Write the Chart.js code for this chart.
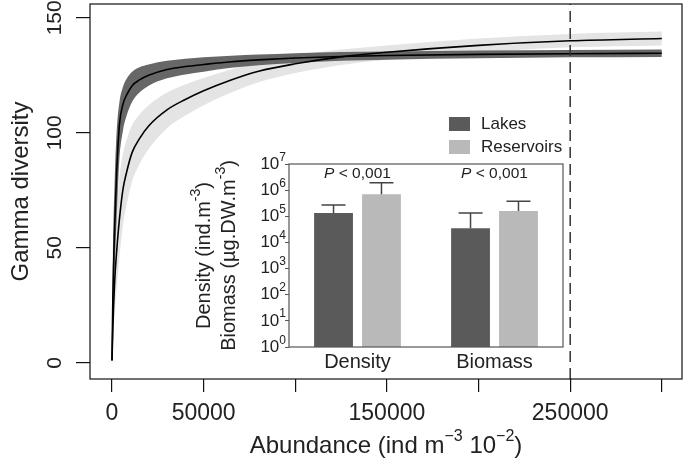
<!DOCTYPE html>
<html>
<head>
<meta charset="utf-8">
<script src="https://cdn.jsdelivr.net/npm/chart.js@4.4.0/dist/chart.umd.min.js"></script>
<style>
  html, body { margin: 0; padding: 0; background: #fff; }
  #wrap { position: relative; width: 685px; height: 467px; }
  #main { position: absolute; left: 0; top: 0; }
  #inset { position: absolute; left: 180px; top: 100px; }
</style>
</head>
<body>
<div id="wrap">
  <canvas id="main" width="685" height="467"></canvas>
  <canvas id="inset" width="400" height="280"></canvas>
</div>
<script>
const FONT = '"Liberation Sans", Arial, Helvetica, sans-serif';

// rarefaction curves: gamma diversity vs abundance
const abundance  = [0, 500, 1500, 2500, 4000, 6000, 8000, 11000, 15000, 20000, 30000, 40000, 50000, 65000, 80000, 100000, 125000, 150000, 200000, 250000, 300000];
const lakesMean  = [1, 30, 60, 82, 103, 112.5, 116.5, 120.5, 123, 125, 127.5, 128.8, 129.7, 130.9, 131.7, 132.5, 133.2, 133.6, 134.1, 134.4, 134.6];
const lakesUpper = [1, 45, 80, 100, 113, 120, 123.5, 126.5, 128.5, 129.7, 131.3, 132.2, 132.8, 133.5, 134, 134.6, 135.1, 135.4, 135.8, 136, 136.2];
const lakesLower = [1, 18, 42, 62, 88, 101, 107.5, 113.5, 117.5, 120.5, 123.7, 125.4, 126.6, 128.3, 129.4, 130.4, 131.3, 131.8, 132.4, 132.8, 133];
const resMean    = [1, 16, 36, 48, 62, 75.5, 83, 91.5, 97.5, 103, 110, 114.5, 118.3, 123, 126.8, 130, 133, 135, 138, 140, 141];
const resUpper   = [1, 26, 52, 66, 80, 91, 97, 103.5, 108, 112, 117.5, 121, 123.8, 127.5, 130.5, 133.5, 136.2, 138, 141, 143, 144];
const resLower   = [1, 8, 22, 32, 45, 60, 69, 79, 86.5, 93, 102, 107.5, 112, 117.5, 122, 126, 129.5, 131.8, 135, 137.2, 138];
const CUTOFF = 250000;

const X_MIN = -12000, X_MAX = 311000;
const Y_MIN = -7, Y_MAX = 156;
const X_TICKS = [0, 50000, 100000, 150000, 200000, 250000, 300000];
const X_LABELS = [0, 50000, 150000, 250000];
const Y_TICKS = [0, 50, 100, 150];

// inset: density and biomass, log scale
const categories = ['Density', 'Biomass'];
const lakesBar    = [1.35e5, 3.5e4];
const lakesErrTop = [2.7e5, 1.35e5];
const resBar      = [6.9e5, 1.6e5];
const resErrTop   = [1.9e6, 3.8e5];
const LOG_TICKS = [1, 10, 100, 1e3, 1e4, 1e5, 1e6, 1e7];

const pts = ys => abundance.map((x, i) => ({ x: x, y: ys[i] }));

// draw text made of normal / superscript / italic pieces, centred on (cx, cy)
function drawRich(ctx, parts, cx, cy, size, align) {
  const fontOf = k => k === 's' ? (Math.round(size * 0.68) + 'px ' + FONT)
                    : k === 'i' ? ('italic ' + size + 'px ' + FONT)
                    : (size + 'px ' + FONT);
  let w = 0;
  parts.forEach(p => { ctx.font = fontOf(p[1]); w += ctx.measureText(p[0]).width; });
  let x = align === 'right' ? cx - w : cx - w / 2;
  ctx.textAlign = 'left';
  ctx.textBaseline = 'middle';
  parts.forEach(p => {
    ctx.font = fontOf(p[1]);
    ctx.fillText(p[0], x, p[1] === 's' ? cy - size * 0.4 : cy);
    x += ctx.measureText(p[0]).width;
  });
}

const mainDecor = {
  id: 'mainDecor',
  afterDraw(chart) {
    const { ctx, chartArea: a, scales: { y } } = chart;
    ctx.save();
    ctx.strokeStyle = '#111';
    ctx.lineWidth = 1.2;
    ctx.strokeRect(a.left, a.top, a.right - a.left, a.bottom - a.top);
    ctx.fillStyle = '#222';
    ctx.font = '21px ' + FONT;
    ctx.textAlign = 'center';
    ctx.textBaseline = 'middle';
    Y_TICKS.forEach(v => {
      ctx.save();
      ctx.translate(55, y.getPixelForValue(v));
      ctx.rotate(-Math.PI / 2);
      ctx.fillText(String(v), 0, 0);
      ctx.restore();
    });
    ctx.save();
    ctx.translate(21, (a.top + a.bottom) / 2);
    ctx.rotate(-Math.PI / 2);
    ctx.font = '24px ' + FONT;
    ctx.fillText('Gamma diversity', 0, 0);
    ctx.restore();
    drawRich(ctx, [['Abundance (ind m', 'n'], ['\u22123', 's'], [' 10', 'n'], ['\u22122', 's'], [')', 'n']],
      (a.left + a.right) / 2, 446, 24);
    ctx.restore();
  }
};

const band = (data, color, fill) => ({
  data: pts(data), borderColor: 'rgba(0,0,0,0)', borderWidth: 0, backgroundColor: color,
  fill: fill, pointRadius: 0, cubicInterpolationMode: 'monotone'
});

new Chart(document.getElementById('main'), {
  type: 'line',
  data: {
    datasets: [
      { label: 'cutoff', data: [{ x: CUTOFF, y: Y_MIN }, { x: CUTOFF, y: Y_MAX }],
        borderColor: '#333', borderWidth: 1.5, borderDash: [11, 6], pointRadius: 0, fill: false },
      { label: 'Lakes', data: pts(lakesMean), borderColor: '#000', borderWidth: 1.6,
        pointRadius: 0, fill: false, cubicInterpolationMode: 'monotone' },
      { label: 'Reservoirs', data: pts(resMean), borderColor: '#000', borderWidth: 1.6,
        pointRadius: 0, fill: false, cubicInterpolationMode: 'monotone' },
      band(lakesUpper, '#676767', '+1'),
      band(lakesLower, '#676767', false),
      band(resUpper, '#e4e4e4', '+1'),
      band(resLower, '#e4e4e4', false)
    ]
  },
  options: {
    responsive: false,
    animation: false,
    layout: { padding: { top: 4, right: 3, left: 0, bottom: 0 } },
    plugins: { legend: { display: false }, tooltip: { enabled: false } },
    scales: {
      x: {
        type: 'linear', min: X_MIN, max: X_MAX,
        afterBuildTicks: s => { s.ticks = X_TICKS.map(v => ({ value: v })); },
        afterFit: s => { s.height = 88; },
        grid: { drawOnChartArea: false, tickLength: 13, color: '#111', lineWidth: 1.2 },
        border: { display: false },
        ticks: {
          autoSkip: false, maxRotation: 0, padding: 8, color: '#222',
          font: { family: FONT, size: 23 },
          callback: v => X_LABELS.includes(v) ? String(v) : ''
        }
      },
      y: {
        type: 'linear', min: Y_MIN, max: Y_MAX,
        afterBuildTicks: s => { s.ticks = Y_TICKS.map(v => ({ value: v })); },
        afterFit: s => { s.width = 90; },
        grid: { drawOnChartArea: false, tickLength: 14, color: '#111', lineWidth: 1.2 },
        border: { display: false },
        ticks: { display: false }
      }
    }
  },
  plugins: [mainDecor]
});

const insetDecor = {
  id: 'insetDecor',
  afterDatasetsDraw(chart) {
    const { ctx, scales: { y } } = chart;
    ctx.save();
    // error bars (upper only)
    ctx.strokeStyle = '#444';
    ctx.lineWidth = 1.5;
    chart.data.datasets.forEach((ds, i) => {
      chart.getDatasetMeta(i).data.forEach((bar, j) => {
        const top = y.getPixelForValue(ds.errTop[j]);
        ctx.beginPath();
        ctx.moveTo(bar.x, bar.y);
        ctx.lineTo(bar.x, top);
        ctx.moveTo(bar.x - 12, top);
        ctx.lineTo(bar.x + 12, top);
        ctx.stroke();
      });
    });
    ctx.restore();
  },
  afterDraw(chart) {
    const { ctx, chartArea: a, scales: { x, y } } = chart;
    ctx.save();
    ctx.strokeStyle = '#555';
    ctx.lineWidth = 1.2;
    ctx.strokeRect(a.left, a.top, a.right - a.left, a.bottom - a.top);
    ctx.fillStyle = '#222';
    // log tick labels 10^n
    LOG_TICKS.forEach((v, n) => {
      drawRich(ctx, [['10', 'n'], [String(n), 's']], a.left - 3, y.getPixelForValue(v), 17, 'right');
    });
    // significance labels
    categories.forEach((c, j) => {
      drawRich(ctx, [['P', 'i'], [' < 0,001', 'n']], x.getPixelForValue(j), a.top + 10, 15.5);
    });
    // legend
    chart.data.datasets.forEach((ds, i) => {
      const ly = 17 + i * 23;
      ctx.fillStyle = ds.backgroundColor;
      ctx.fillRect(269, ly, 21, 14);
      ctx.fillStyle = '#222';
      ctx.font = '17px ' + FONT;
      ctx.textAlign = 'left';
      ctx.textBaseline = 'middle';
      ctx.fillText(ds.label, 301, ly + 7);
    });
    // y title, two lines
    const cy = (a.top + a.bottom) / 2;
    [[['Density (ind.m', 'n'], ['-3', 's'], [')', 'n']],
     [['Biomass (\u00b5g.DW.m', 'n'], ['-3', 's'], [')', 'n']]].forEach((parts, k) => {
      ctx.save();
      ctx.translate(24 + k * 25, cy);
      ctx.rotate(-Math.PI / 2);
      drawRich(ctx, parts, 0, 0, 20);
      ctx.restore();
    });
    ctx.restore();
  }
};

new Chart(document.getElementById('inset'), {
  type: 'bar',
  data: {
    labels: categories,
    datasets: [
      { label: 'Lakes', data: lakesBar, errTop: lakesErrTop, backgroundColor: '#5a5a5a',
        categoryPercentage: 0.7, barPercentage: 0.81 },
      { label: 'Reservoirs', data: resBar, errTop: resErrTop, backgroundColor: '#b9b9b9',
        categoryPercentage: 0.7, barPercentage: 0.81 }
    ]
  },
  options: {
    responsive: false,
    animation: false,
    layout: { padding: { top: 64, right: 17, left: 0, bottom: 0 } },
    plugins: { legend: { display: false }, tooltip: { enabled: false } },
    scales: {
      x: {
        grid: { display: false, drawTicks: false },
        border: { display: false },
        ticks: { color: '#222', font: { family: FONT, size: 20 }, padding: 3 },
        afterFit: s => { s.height = 33; }
      },
      y: {
        type: 'logarithmic', min: 1, max: 1e7,
        afterBuildTicks: s => { s.ticks = LOG_TICKS.map(v => ({ value: v })); },
        afterFit: s => { s.width = 109; },
        grid: { drawOnChartArea: false, tickLength: 4, color: '#555' },
        border: { display: false },
        ticks: { display: false }
      }
    }
  },
  plugins: [insetDecor]
});
</script>
</body>
</html>
